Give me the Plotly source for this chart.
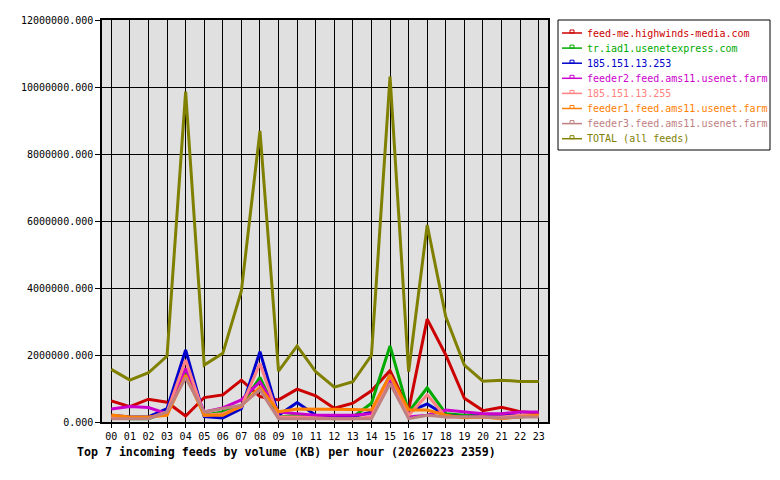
import plotly.graph_objects as go

hours = ["00", "01", "02", "03", "04", "05", "06", "07", "08", "09", "10", "11",
         "12", "13", "14", "15", "16", "17", "18", "19", "20", "21", "22", "23"]

feed_me = [0.63e6, 0.46e6, 0.68e6, 0.59e6, 0.18e6, 0.73e6, 0.81e6, 1.25e6, 0.76e6, 0.66e6, 0.98e6, 0.78e6,
           0.41e6, 0.56e6, 0.93e6, 1.53e6, 0.36e6, 3.07e6, 2.00e6, 0.71e6, 0.34e6, 0.44e6, 0.31e6, 0.26e6]
tr_iad1 = [0.15e6, 0.10e6, 0.10e6, 0.30e6, 1.50e6, 0.20e6, 0.30e6, 0.50e6, 1.33e6, 0.15e6, 0.20e6, 0.15e6,
           0.10e6, 0.15e6, 0.56e6, 2.27e6, 0.30e6, 1.02e6, 0.25e6, 0.20e6, 0.20e6, 0.15e6, 0.15e6, 0.20e6]
ip_253 = [0.20e6, 0.15e6, 0.15e6, 0.40e6, 2.15e6, 0.16e6, 0.12e6, 0.40e6, 2.10e6, 0.20e6, 0.58e6, 0.20e6,
          0.15e6, 0.15e6, 0.30e6, 1.40e6, 0.30e6, 0.54e6, 0.20e6, 0.15e6, 0.20e6, 0.20e6, 0.20e6, 0.20e6]
feeder2 = [0.39e6, 0.46e6, 0.43e6, 0.25e6, 1.60e6, 0.30e6, 0.42e6, 0.66e6, 1.20e6, 0.30e6, 0.25e6, 0.20e6,
           0.20e6, 0.20e6, 0.25e6, 1.30e6, 0.15e6, 0.20e6, 0.36e6, 0.30e6, 0.25e6, 0.25e6, 0.30e6, 0.30e6]
ip_255 = [0.15e6, 0.12e6, 0.12e6, 0.30e6, 1.85e6, 0.20e6, 0.25e6, 0.45e6, 1.75e6, 0.15e6, 0.15e6, 0.12e6,
          0.10e6, 0.10e6, 0.15e6, 1.40e6, 0.20e6, 0.81e6, 0.15e6, 0.15e6, 0.15e6, 0.15e6, 0.20e6, 0.20e6]
feeder1 = [0.21e6, 0.15e6, 0.15e6, 0.20e6, 1.40e6, 0.20e6, 0.20e6, 0.48e6, 1.04e6, 0.31e6, 0.39e6, 0.39e6,
           0.37e6, 0.37e6, 0.36e6, 1.40e6, 0.36e6, 0.36e6, 0.20e6, 0.13e6, 0.15e6, 0.10e6, 0.15e6, 0.20e6]
feeder3 = [0.10e6, 0.10e6, 0.10e6, 0.30e6, 1.32e6, 0.30e6, 0.40e6, 0.50e6, 0.96e6, 0.10e6, 0.10e6, 0.10e6,
           0.10e6, 0.10e6, 0.10e6, 1.15e6, 0.10e6, 0.20e6, 0.15e6, 0.15e6, 0.15e6, 0.12e6, 0.15e6, 0.15e6]
total = [1.57e6, 1.25e6, 1.47e6, 1.97e6, 9.86e6, 1.70e6, 2.05e6, 3.91e6, 8.69e6, 1.52e6, 2.27e6, 1.50e6,
         1.04e6, 1.20e6, 1.99e6, 10.31e6, 1.50e6, 5.88e6, 3.14e6, 1.70e6, 1.22e6, 1.25e6, 1.21e6, 1.21e6]

names = ["feed-me.highwinds-media.com", "tr.iad1.usenetexpress.com", "185.151.13.253",
         "feeder2.feed.ams11.usenet.farm", "185.151.13.255", "feeder1.feed.ams11.usenet.farm",
         "feeder3.feed.ams11.usenet.farm", "TOTAL (all feeds)"]
series = [feed_me, tr_iad1, ip_253, feeder2, ip_255, feeder1, feeder3, total]
colors = ["#cc0000", "#00aa00", "#0000cc", "#cc00cc", "#ff8080", "#ff8000", "#c08080", "#808000"]

MONO = "DejaVu Sans Mono"
W, H = 780, 480
PL, PR, PT, PB = 102, 548, 20, 422  # plot area in pixels


def px(x):
    return (x - PL) / (PR - PL)


def py(y):
    return (PB - y) / (PB - PT)


fig = go.Figure()
for name, vals, col in zip(names, series, colors):
    fig.add_trace(go.Scatter(
        x=hours, y=vals, mode="lines", name=name,
        line=dict(color=col, width=3), showlegend=False))

# hand-drawn legend box (gnuplot-style)
shapes = [dict(type="rect", xref="paper", yref="paper",
               x0=px(558), x1=px(770), y0=py(150), y1=py(20),
               line=dict(color="black", width=1), fillcolor="white", layer="above")]
annotations = []
for i, (name, col) in enumerate(zip(names, colors)):
    yy = 33 + 15.1 * i
    shapes.append(dict(type="line", xref="paper", yref="paper",
                       x0=px(562), x1=px(582), y0=py(yy), y1=py(yy),
                       line=dict(color=col, width=1.5), layer="above"))
    shapes.append(dict(type="rect", xref="paper", yref="paper",
                       x0=px(570), x1=px(574), y0=py(yy), y1=py(yy - 3),
                       line=dict(color=col, width=1), fillcolor="rgba(0,0,0,0)", layer="above"))
    annotations.append(dict(text=name, x=px(585), y=py(yy), xref="paper", yref="paper",
                            xanchor="left", yanchor="middle", showarrow=False,
                            font=dict(family=MONO, size=10, color=col)))

annotations.append(dict(
    text="<b>Top 7 incoming feeds by volume (KB) per hour (20260223 2359)</b>",
    x=px(75), y=py(452), xref="paper", yref="paper", xanchor="left", yanchor="middle",
    showarrow=False, font=dict(family=MONO, size=11.6, color="black")))

fig.update_layout(
    width=W, height=H,
    margin=dict(l=PL, r=W - PR, t=PT, b=H - PB, autoexpand=False),
    paper_bgcolor="white", plot_bgcolor="#e0e0e0",
    font=dict(family=MONO, size=10, color="black"),
    showlegend=False,
    shapes=shapes, annotations=annotations,
)
fig.update_xaxes(
    type="category", range=[-0.5, 23.5],
    showgrid=True, gridcolor="black", gridwidth=1,
    showline=True, linecolor="black", linewidth=1.5, mirror=True,
    ticks="outside", ticklen=4, tickcolor="black", zeroline=False,
    tickfont=dict(family=MONO, size=10))
fig.update_yaxes(
    range=[0, 12e6], dtick=2e6, tick0=0, tickformat=".3f",
    showgrid=True, gridcolor="black", gridwidth=1,
    showline=True, linecolor="black", linewidth=1.5, mirror=True,
    ticks="outside", ticklen=5, tickcolor="black", zeroline=False,
    tickfont=dict(family=MONO, size=10))

fig.write_html("out.html")
